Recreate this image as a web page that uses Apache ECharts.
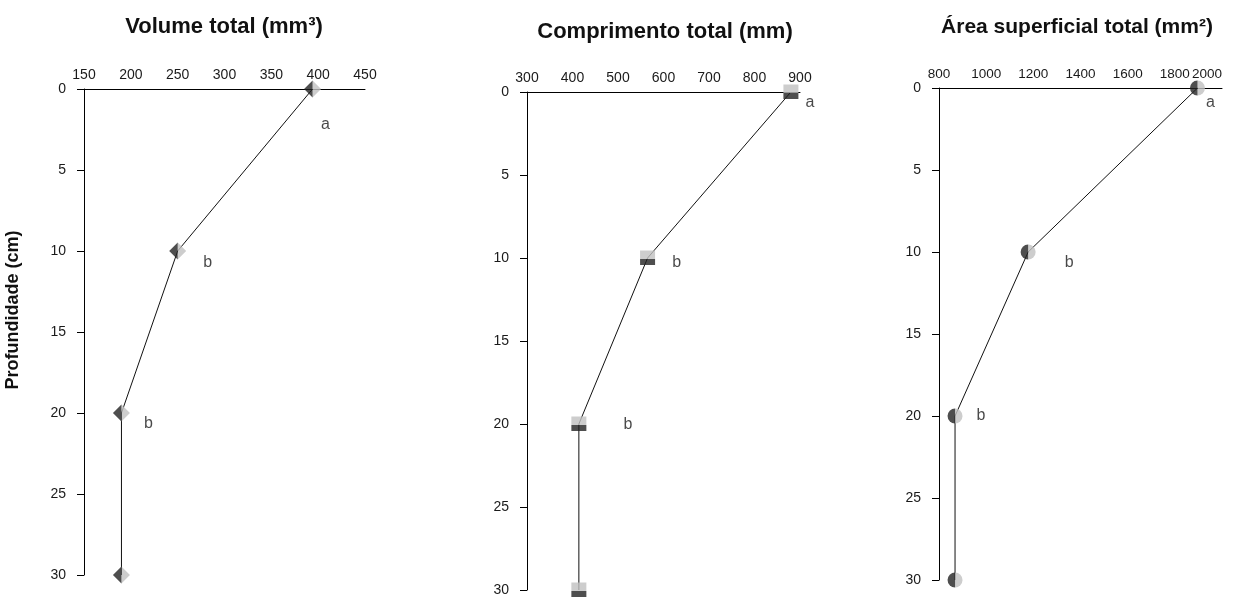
<!DOCTYPE html>
<html>
<head>
<meta charset="utf-8">
<script src="https://cdn.jsdelivr.net/npm/echarts@6/dist/echarts.min.js"></script>
<style>
html,body{margin:0;padding:0;background:#fff;}
#c{width:1247px;height:597px;}
</style>
</head>
<body>
<div id="c"></div>
<script>
// ---- data ----
const depths = [0, 10, 20, 30];
const volumeValues = [394, 250, 190, 190];
const lengthValues = [880, 565, 414, 414];
const areaValues = [1896, 1178, 868, 868];
const volumeLetters = ['a', 'b', 'b', ''];
const lengthLetters = ['a', 'b', 'b', ''];
const areaLetters = ['a', 'b', 'b', ''];
const titles = ['Volume total (mm\u00b3)', 'Comprimento total (mm)', '\u00c1rea superficial total (mm\u00b2)'];
const yAxisName = 'Profundidade (cm)';

// ---- layout / style ----
const grids = [
  {left: 84, top: 89, width: 281, height: 486},
  {left: 527, top: 92, width: 273, height: 498},
  {left: 939, top: 88, width: 283, height: 492}
];
const xRanges = [
  {min: 150, max: 450, interval: 50},
  {min: 300, max: 900, interval: 100},
  {min: 800, max: 2000, interval: 200}
];
const letterOffsets = [
  [[13, 36], [30, 12], [27, 11], [0, 0]],
  [[19, 11], [29, 5], [49, 1], [0, 0]],
  [[13, 15], [41, 11], [26, 0], [0, 0]]
];
const titlePos = [[224, 27], [665, 32], [1077, 27]];
const titleSizes = [22, 22, 21];
const xLabelSizes = [14, 14, 13.5];
const DARK = '#222222', LIGHT = '#c0c0c0';
const FONT = 'Liberation Sans, Arial, sans-serif';

const allValues = [volumeValues, lengthValues, areaValues];
const allLetters = [volumeLetters, lengthLetters, areaLetters];

function pts(vals) { return vals.map((v, i) => [v, depths[i]]); }

const xAxes = [], yAxes = [], series = [];
for (let k = 0; k < 3; k++) {
  xAxes.push({
    gridIndex: k, type: 'value', position: 'top',
    min: xRanges[k].min, max: xRanges[k].max, interval: xRanges[k].interval,
    axisLine: {show: true, onZero: false, lineStyle: {color: '#000', width: 1}},
    axisTick: {show: false}, splitLine: {show: false},
    axisLabel: {color: '#1a1a1a', fontSize: xLabelSizes[k], fontFamily: FONT, margin: 7,
      showMinLabel: true, showMaxLabel: true, hideOverlap: false,
      formatter: (v) => String(v),
      alignMaxLabel: k === 2 ? 'right' : null}
  });
  yAxes.push({
    gridIndex: k, type: 'value', inverse: true, min: 0, max: 30, interval: 5,
    axisLine: {show: true, onZero: false, lineStyle: {color: '#000', width: 1}},
    axisTick: {show: true, length: 7, lineStyle: {color: '#000'}},
    splitLine: {show: false},
    axisLabel: {color: '#1a1a1a', fontSize: 14, fontFamily: FONT, margin: 18,
      showMinLabel: true, showMaxLabel: true, hideOverlap: false}
  });
  const p = pts(allValues[k]);
  series.push({
    type: 'line', xAxisIndex: k, yAxisIndex: k, data: p, symbol: 'none',
    lineStyle: {color: '#111', width: 1}, z: 1, silent: true
  });
  let leftSym, rightSym, leftSize, rightSize, leftOff, rightOff;
  if (k === 0) {
    leftSym = 'path://M1,0 L0,1 L1,2 Z'; rightSym = 'path://M0,0 L1,1 L0,2 Z';
    leftSize = [8.5, 17]; rightSize = [8.5, 17]; leftOff = [-4.25, 0]; rightOff = [4.25, 0];
  } else if (k === 1) {
    leftSym = 'rect'; rightSym = 'rect';
    leftSize = [15, 6]; rightSize = [15, 8.5]; leftOff = [0, 4]; rightOff = [0, -3.25];
  } else {
    leftSym = 'path://M10,0 A10,10 0 0 0 10,20 Z'; rightSym = 'path://M0,0 A10,10 0 0 1 0,20 Z';
    leftSize = [7.5, 15]; rightSize = [7.5, 15]; leftOff = [-3.75, 0]; rightOff = [3.75, 0];
  }
  series.push({
    type: 'scatter', xAxisIndex: k, yAxisIndex: k, data: p,
    symbol: rightSym, symbolSize: rightSize, symbolOffset: rightOff,
    itemStyle: {color: LIGHT}, z: 3, silent: true
  });
  series.push({
    type: 'scatter', xAxisIndex: k, yAxisIndex: k, data: p,
    symbol: leftSym, symbolSize: leftSize, symbolOffset: leftOff,
    itemStyle: {color: DARK}, z: 3, silent: true
  });
  series.push({
    type: 'scatter', xAxisIndex: k, yAxisIndex: k,
    data: p.map((d, i) => ({value: d, label: {offset: letterOffsets[k][i]}})),
    symbolSize: 1, itemStyle: {color: 'rgba(0,0,0,0)'}, z: 4, silent: true,
    label: {show: true, position: 'inside', color: '#1a1a1a', fontSize: 16,
      fontFamily: FONT,
      formatter: (prm) => allLetters[k][prm.dataIndex]}
  });
}

const graphics = titles.map((t, k) => ({
  type: 'text', x: titlePos[k][0], y: titlePos[k][1],
  style: {text: t, fontSize: titleSizes[k], fontWeight: 'bold', fill: '#111', fontFamily: FONT,
    align: 'center', verticalAlign: 'middle'}
}));
graphics.push({
  type: 'text', x: 13, y: 310, rotation: Math.PI / 2,
  style: {text: yAxisName, fontSize: 18, fontWeight: 'bold', fill: '#111',
    fontFamily: FONT, align: 'center', verticalAlign: 'middle'}
});

const chart = echarts.init(document.getElementById('c'), null, {renderer: 'canvas'});
chart.setOption({
  animation: false,
  backgroundColor: '#fff',
  graphic: graphics,
  grid: grids,
  xAxis: xAxes,
  yAxis: yAxes,
  series: series
});
</script>
</body>
</html>
